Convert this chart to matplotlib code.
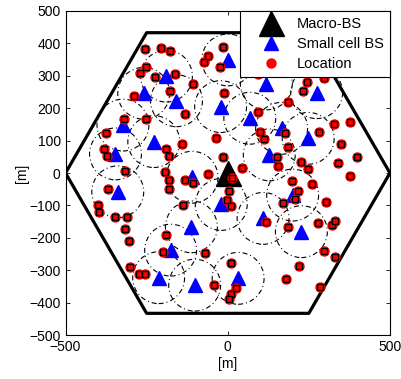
import numpy as np
import matplotlib
matplotlib.use("Agg")
import matplotlib.pyplot as plt
from matplotlib.patches import Circle

plt.rcParams['font.family'] = ['Liberation Sans', 'DejaVu Sans']

# macro base station and cell layout [m]
macro_x = [0]
macro_y = [0]
cell_radius = 500
small_radius = 80

# small cell base stations [m]
sc_x = [0, -189, -259, -158, -22, -323, -228, -346, -110, 119, 274, 68, 166,
        248, 128, -339, -20, -112, -176, -213, -102, 32, 200, 109, 227]
sc_y = [349, 299, 246, 223, 205, 148, 97, 59, -13, 275, 248, 169, 138,
        107, 56, -58, -97, -166, -238, -323, -346, -325, -68, -140, -181]

# user locations [m]
loc_x = [-256, -205, -179, -251, -269, -225, -164, -179, -289, -319, -251, -374,
         -380, -373, -190, -180, -316, -192, -14, -62, -74, -25, -108, -11,
         -133, 92, 99, 113, -35, -140, -15, 43, -60, 153, 156, 94,
         296, 244, 231, 187, 327, 378, 281, 176, 186, 348, 397, 339,
         225, 247, -181, -181, -368, -400, -398, -346, -309, -318, -305, -191,
         -198, -301, -274, -256, -133, -108, 12, 3, -1, 9, -138, 117,
         -70, 11, -42, 26, 11, 3, 376, 197, 261, 218, 208, 170,
         303, 186, 279, 320, 332, 296, 332, 221, 179, 284]
loc_y = [383, 387, 376, 326, 310, 297, 305, 252, 239, 167, 167, 123,
         75, 53, 74, 51, 5, 2, 389, 362, 342, 328, 274, 246,
         181, 188, 128, 106, 109, 89, 49, 15, -4, 48, 22, 306,
         293, 282, 252, 219, 150, 157, 126, 122, 80, 89, 49, 32,
         33, 12, -22, -49, -50, -99, -121, -137, -135, -174, -209, -192,
         -243, -289, -313, -313, -23, -30, -14, -55, -83, -101, -98, -150,
         -246, -277, -346, -354, -374, -390, -9, -25, -35, -55, -79, -92,
         -89, -166, -154, -160, -148, -240, -258, -287, -326, -352]

fig = plt.figure(figsize=(4.02, 3.79), dpi=100)
ax = fig.add_axes([0.163, 0.116, 0.807, 0.855])

# small cell coverage circles
for x, y in zip(sc_x, sc_y):
    c = Circle((x, y), small_radius, fill=False, color='k', lw=0.8,
               linestyle=(0, (4.5, 2.7, 0.9, 2.7)), zorder=1)
    ax.add_patch(c)

# hexagonal macro cell
ang = np.radians(np.arange(0, 361, 60))
ax.plot(cell_radius * np.cos(ang), cell_radius * np.sin(ang), 'k-', lw=2.3, zorder=2)

ax.plot(macro_x, macro_y, '^', color='k', ms=18, label='Macro-BS', zorder=3)
ax.plot(sc_x, sc_y, '^', color='b', mec='b', ms=10, ls='none', label='Small cell BS', zorder=3)
ax.plot(loc_x, loc_y, 'o', color='red', mec='red', ms=6.5, ls='none', label='Location', zorder=4)
ax.plot(loc_x, loc_y, 's', mfc='red', mec='k', mew=1.0, ms=4, ls='none', zorder=5)

ax.set_xlim(-500, 500)
ax.set_ylim(-500, 500)
ax.set_xticks([-500, 0, 500])
ax.set_yticks(np.arange(-500, 501, 100))
ax.tick_params(direction='in', top=True, right=True, labelsize=10, length=3, width=0.6)
for s in ax.spines.values():
    s.set_linewidth(0.8)
ax.set_xlabel('[m]', fontsize=10, labelpad=2)
ax.set_ylabel('[m]', fontsize=10, labelpad=0)

leg = ax.legend(loc='upper right', borderaxespad=0, fancybox=False, edgecolor='k',
                framealpha=1, fontsize=10.5, handlelength=3.4, labelspacing=0.42,
                borderpad=0.4, handletextpad=0.1)
leg.get_frame().set_linewidth(0.8)

fig.savefig('out.png', dpi=100)
